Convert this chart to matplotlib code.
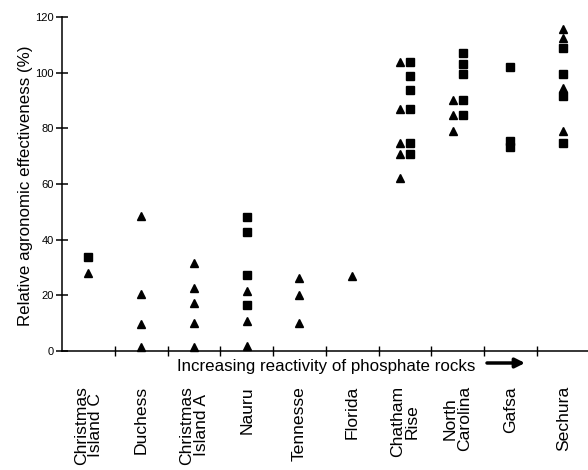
import matplotlib
matplotlib.use("Agg")
import matplotlib.pyplot as plt
from matplotlib.transforms import ScaledTranslation, blended_transform_factory

plt.rcParams['font.family'] = ['Liberation Sans', 'DejaVu Sans']

categories = ["Christmas\nIsland C", "Duchess", "Christmas\nIsland A", "Nauru",
              "Tennesse", "Florida", "Chatham\nRise", "North\nCarolina",
              "Gafsa", "Sechura"]

# values (relative agronomic effectiveness, %)
triangles = {
    "Christmas\nIsland C": [28],
    "Duchess": [48.5, 20.4, 9.6, 1.3],
    "Christmas\nIsland A": [31.5, 22.8, 17.4, 10.0, 1.4],
    "Nauru": [21.7, 10.9, 1.9],
    "Tennesse": [26.1, 20.1, 10.0],
    "Florida": [27.0],
    "Chatham\nRise": [104.0, 86.8, 74.8, 70.8, 62.0],
    "North\nCarolina": [90.2, 84.8, 79.0],
    "Gafsa": [],
    "Sechura": [115.7, 112.6, 94.6, 79.2],
}
squares = {
    "Christmas\nIsland C": [33.9],
    "Duchess": [],
    "Christmas\nIsland A": [],
    "Nauru": [48.0, 42.8, 27.2, 16.6],
    "Tennesse": [],
    "Florida": [],
    "Chatham\nRise": [104.0, 98.8, 93.7, 86.8, 74.8, 70.8],
    "North\nCarolina": [107.0, 103.2, 99.4, 90.2, 84.8],
    "Gafsa": [102.0, 75.5, 73.2],
    "Sechura": [108.8, 99.5, 91.7, 74.6],
}
side_by_side = {"Chatham\nRise", "North\nCarolina"}

W, H = 588, 470
fig = plt.figure(figsize=(W / 100, H / 100), dpi=100)
ax = fig.add_axes([62 / W, 1 - 351 / H, (588 - 62) / W, (351 - 17) / H])
ax.set_xlim(0, 9.97)
ax.set_ylim(0, 120)

for s in ("top", "right"):
    ax.spines[s].set_visible(False)
for s in ("left", "bottom"):
    ax.spines[s].set_linewidth(1.1)

left = ScaledTranslation(-3.6 / 72, 0, fig.dpi_scale_trans)
right = ScaledTranslation(3.6 / 72, 0, fig.dpi_scale_trans)

for i, cat in enumerate(categories):
    xc = i + 0.5
    tv = triangles[cat]
    sv = squares[cat]
    ttr = ax.transData + left if cat in side_by_side else ax.transData
    str_ = ax.transData + right if cat in side_by_side else ax.transData
    if tv:
        ax.plot([xc] * len(tv), tv, linestyle="none", marker="^", ms=5.4,
                color="black", transform=ttr, clip_on=False)
    if sv:
        ax.plot([xc] * len(sv), sv, linestyle="none", marker="s", ms=5.2,
                color="black", transform=str_, clip_on=False)

ax.set_yticks(range(0, 121, 20))
ax.tick_params(axis="y", direction="inout", length=8, width=1.1, labelsize=8, pad=2)
ax.set_xticks(range(1, 10))
ax.set_xticklabels([])
ax.tick_params(axis="x", direction="inout", length=7, width=1.0)

trans = blended_transform_factory(ax.transData, fig.transFigure)
for i, cat in enumerate(categories):
    ax.text(i + 0.5, 1 - 386 / H, cat, transform=trans, rotation=90,
            ha="center", va="top", multialignment="center", fontsize=12.6,
            linespacing=0.95)

fig.text(326 / W, 1 - 366 / H, "Increasing reactivity of phosphate rocks",
         ha="center", va="center", fontsize=12.2)
ax.annotate("", xy=(525 / W, 1 - 363 / H), xytext=(487 / W, 1 - 363 / H),
            xycoords="figure fraction", textcoords="figure fraction",
            arrowprops=dict(arrowstyle="-|>", lw=2.5, color="black",
                            mutation_scale=14, shrinkA=0, shrinkB=0))

fig.text(26 / W, 1 - 186 / H, "Relative agronomic effectiveness (%)",
         rotation=90, ha="center", va="center", fontsize=12.2)

fig.savefig("out.png", dpi=100)
